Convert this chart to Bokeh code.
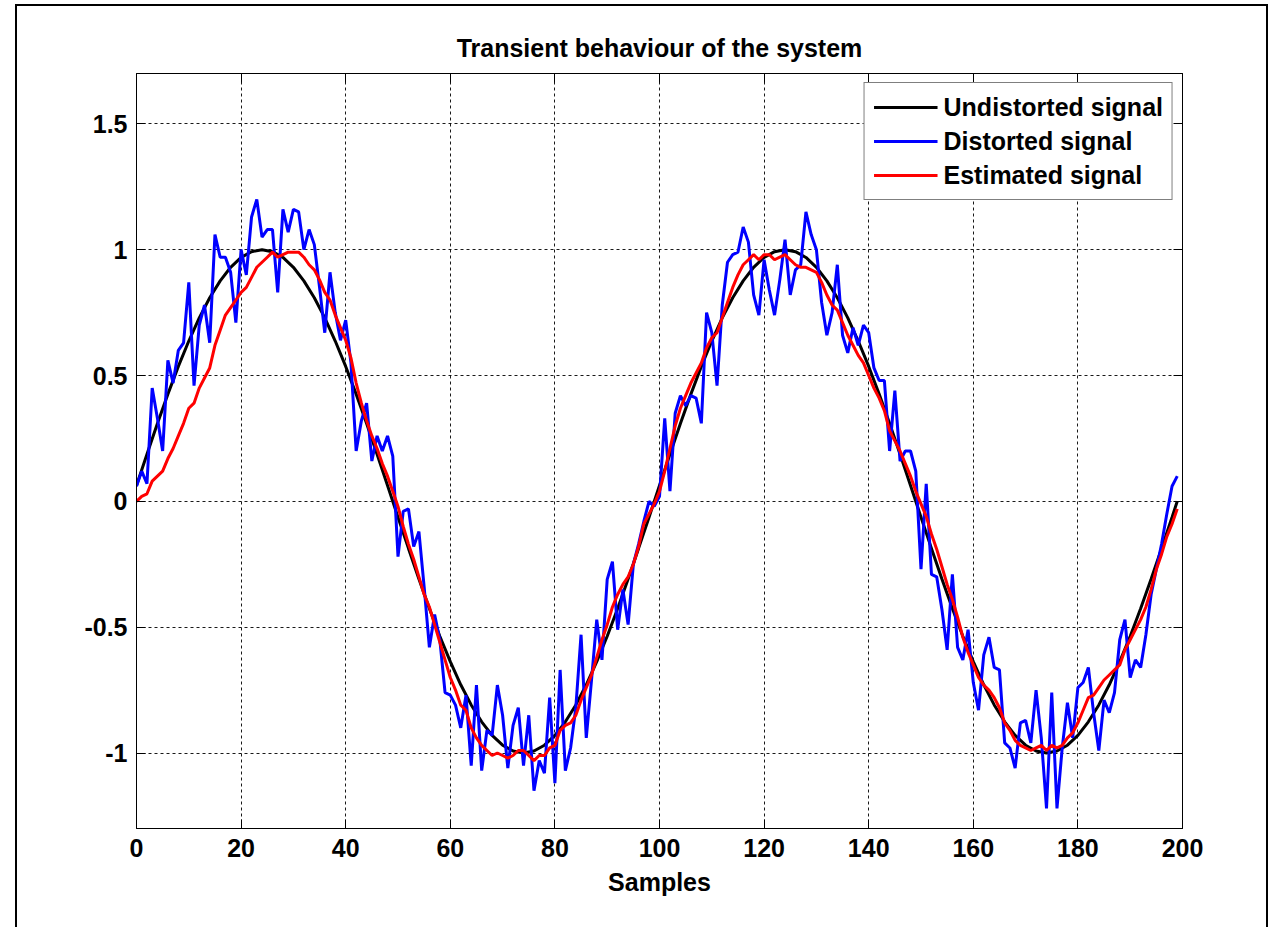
from bokeh.plotting import figure
from bokeh.models import Range1d, FixedTicker, LinearAxis, Legend, LegendItem
from bokeh.embed import file_html
from bokeh.resources import INLINE

# ---------------- data ----------------
samples = list(range(200))

undistorted_x = list(range(0, 200, 2)) + [199]
undistorted = [
    0.063, 0.187, 0.309, 0.426, 0.536, 0.637, 0.729, 0.809, 0.876, 0.930,
    0.969, 0.992, 1.000, 0.992, 0.969, 0.930, 0.876, 0.809, 0.729, 0.637,
    0.536, 0.426, 0.309, 0.187, 0.063,
    -0.063, -0.187, -0.309, -0.426, -0.536, -0.637, -0.729, -0.809, -0.876, -0.930,
    -0.969, -0.992, -1.000, -0.992, -0.969, -0.930, -0.876, -0.809, -0.729, -0.637,
    -0.536, -0.426, -0.309, -0.187, -0.063,
    0.063, 0.187, 0.309, 0.426, 0.536, 0.637, 0.729, 0.809, 0.876, 0.930,
    0.969, 0.992, 1.000, 0.992, 0.969, 0.930, 0.876, 0.809, 0.729, 0.637,
    0.536, 0.426, 0.309, 0.187, 0.063,
    -0.063, -0.187, -0.309, -0.426, -0.536, -0.637, -0.729, -0.809, -0.876, -0.930,
    -0.969, -0.992, -1.000, -0.992, -0.969, -0.930, -0.876, -0.809, -0.729, -0.637,
    -0.536, -0.426, -0.309, -0.187, -0.063,
    0.000,
]

distorted = [
    0.06, 0.12, 0.07, 0.45, 0.33, 0.20, 0.56, 0.47, 0.60, 0.63,
    0.87, 0.46, 0.70, 0.78, 0.63, 1.06, 0.97, 0.97, 0.91, 0.71,
    1.00, 0.90, 1.13, 1.20, 1.05, 1.08, 1.08, 0.83, 1.16, 1.07,
    1.16, 1.15, 1.00, 1.08, 1.02, 0.85, 0.67, 0.91, 0.75, 0.64,
    0.72, 0.55, 0.20, 0.32, 0.39, 0.16, 0.26, 0.20, 0.26, 0.18,
    -0.22, -0.04, -0.03, -0.18, -0.12, -0.34, -0.58, -0.45, -0.55, -0.76,
    -0.77, -0.81, -0.90, -0.77, -1.05, -0.73, -1.07, -0.91, -0.93, -0.73,
    -0.85, -1.06, -0.89, -0.82, -1.05, -0.85, -1.15, -1.03, -1.08, -0.78,
    -1.12, -0.67, -1.07, -0.98, -0.82, -0.53, -0.94, -0.71, -0.47, -0.63,
    -0.31, -0.24, -0.51, -0.35, -0.49, -0.25, -0.17, -0.08, 0.00, -0.02,
    0.02, 0.33, 0.04, 0.35, 0.42, 0.38, 0.42, 0.41, 0.31, 0.75,
    0.67, 0.46, 0.78, 0.95, 0.98, 0.99, 1.09, 1.03, 0.82, 0.74,
    0.96, 0.84, 0.74, 0.88, 1.04, 0.82, 0.92, 0.94, 1.15, 1.06,
    1.00, 0.79, 0.66, 0.75, 0.94, 0.66, 0.59, 0.69, 0.62, 0.70,
    0.67, 0.53, 0.48, 0.48, 0.20, 0.44, 0.16, 0.20, 0.20, 0.12,
    -0.27, 0.07, -0.29, -0.30, -0.43, -0.59, -0.29, -0.58, -0.63, -0.51,
    -0.72, -0.83, -0.61, -0.54, -0.66, -0.67, -0.96, -0.98, -1.06, -0.88,
    -0.87, -0.96, -0.75, -0.94, -1.22, -0.76, -1.22, -0.98, -0.80, -0.94,
    -0.74, -0.72, -0.66, -0.84, -0.99, -0.79, -0.84, -0.76, -0.55, -0.47,
    -0.70, -0.63, -0.66, -0.53, -0.37, -0.27, -0.17, -0.05, 0.06, 0.10,
]

estimated = [
    0.00, 0.02, 0.03, 0.08, 0.10, 0.12, 0.17, 0.21, 0.26, 0.31,
    0.37, 0.39, 0.45, 0.49, 0.53, 0.62, 0.68, 0.74, 0.77, 0.80,
    0.83, 0.85, 0.89, 0.93, 0.95, 0.97, 0.99, 0.97, 0.98, 0.99,
    0.99, 0.99, 0.97, 0.94, 0.92, 0.88, 0.83, 0.80, 0.74, 0.69,
    0.64, 0.57, 0.47, 0.39, 0.32, 0.26, 0.21, 0.15, 0.10, 0.04,
    -0.02, -0.10, -0.17, -0.23, -0.30, -0.37, -0.42, -0.49, -0.56, -0.63,
    -0.70, -0.75, -0.81, -0.83, -0.90, -0.94, -0.97, -0.99, -1.01, -1.00,
    -1.01, -1.02, -1.01, -0.99, -0.99, -1.01, -1.03, -1.01, -1.01, -0.98,
    -0.97, -0.91, -0.89, -0.88, -0.85, -0.79, -0.74, -0.69, -0.62, -0.55,
    -0.49, -0.42, -0.37, -0.33, -0.30, -0.25, -0.18, -0.09, -0.05, -0.01,
    0.04, 0.12, 0.21, 0.30, 0.37, 0.42, 0.47, 0.51, 0.55, 0.61,
    0.65, 0.67, 0.73, 0.79, 0.85, 0.90, 0.94, 0.96, 0.98, 0.96,
    0.98, 0.98, 0.96, 0.97, 0.98, 0.96, 0.94, 0.93, 0.93, 0.92,
    0.91, 0.87, 0.82, 0.78, 0.76, 0.71, 0.66, 0.62, 0.58, 0.55,
    0.50, 0.45, 0.41, 0.36, 0.28, 0.24, 0.20, 0.15, 0.10, 0.04,
    -0.01, -0.06, -0.13, -0.19, -0.26, -0.33, -0.39, -0.46, -0.54, -0.60,
    -0.65, -0.70, -0.73, -0.75, -0.78, -0.82, -0.88, -0.91, -0.95, -0.97,
    -0.98, -0.99, -0.98, -0.97, -0.99, -0.97, -0.98, -0.97, -0.94, -0.92,
    -0.88, -0.83, -0.78, -0.77, -0.74, -0.71, -0.69, -0.67, -0.65, -0.59,
    -0.55, -0.51, -0.47, -0.42, -0.35, -0.27, -0.21, -0.14, -0.09, -0.03,
]

x_ticks = [0, 20, 40, 60, 80, 100, 120, 140, 160, 180, 200]
y_ticks = [-1, -0.5, 0, 0.5, 1, 1.5]
y_tick_labels = ["-1", "-0.5", "0", "0.5", "1", "1.5"]
series_names = ["Undistorted signal", "Distorted signal", "Estimated signal"]

# ---------------- figure ----------------
FONT = "Liberation Sans"

p = figure(width=1271, height=927, output_backend="svg", toolbar_location=None,
           x_range=Range1d(0, 200), y_range=Range1d(-1.3, 1.7),
           min_border_left=136, min_border_right=89,
           min_border_top=73, min_border_bottom=99,
           background_fill_color="white", border_fill_color=None)

# outer window frame (left, top, right edges) painted behind the transparent canvas
p.styles = {
    "background-color": "white",
    "background-image": "linear-gradient(#000,#000), linear-gradient(#000,#000), linear-gradient(#000,#000)",
    "background-position": "15px 4px, 15px 4px, 1266px 4px",
    "background-size": "2px 1000px, 1253px 2px, 2px 1000px",
    "background-repeat": "no-repeat",
}

p.title.text = "Transient behaviour of the system"
p.title.text_font = FONT
p.title.text_font_size = "25px"
p.title.text_font_style = "bold"
p.title.text_color = "black"
p.title.align = "center"
p.title.standoff = 24
p.outline_line_color = "black"
p.outline_line_width = 1

def style_axis(ax, labels=True):
    ax.axis_line_color = "black"
    ax.axis_line_width = 1
    ax.major_tick_in = 9
    ax.major_tick_out = 0
    ax.major_tick_line_color = "black"
    ax.minor_tick_line_color = None
    ax.major_label_text_font = FONT
    ax.major_label_text_font_size = "25px"
    ax.major_label_text_font_style = "bold"
    ax.major_label_text_color = "black" if labels else None
    ax.axis_label_text_font = FONT
    ax.axis_label_text_font_size = "25px"
    ax.axis_label_text_font_style = "bold"
    ax.axis_label_text_color = "black"

xax = p.xaxis[0]
xax.ticker = FixedTicker(ticks=x_ticks)
xax.axis_label = "Samples"
xax.axis_label_standoff = 8
xax.major_label_standoff = 10
style_axis(xax)

yax = p.yaxis[0]
yax.ticker = FixedTicker(ticks=y_ticks)
yax.major_label_overrides = {t: s for t, s in zip(y_ticks, y_tick_labels)}
yax.major_label_standoff = 9
style_axis(yax)

top_ax = LinearAxis(ticker=FixedTicker(ticks=x_ticks))
style_axis(top_ax, labels=False)
top_ax.major_label_text_font_size = "0px"
p.add_layout(top_ax, "above")
right_ax = LinearAxis(ticker=FixedTicker(ticks=y_ticks))
style_axis(right_ax, labels=False)
right_ax.major_label_text_font_size = "0px"
p.add_layout(right_ax, "right")

for g in (p.xgrid[0], p.ygrid[0]):
    g.grid_line_color = "black"
    g.grid_line_alpha = 0.9
    g.grid_line_width = 1
    g.grid_line_dash = "3 3"
p.xgrid[0].ticker = FixedTicker(ticks=x_ticks)
p.ygrid[0].ticker = FixedTicker(ticks=y_ticks)

r_black = p.line(undistorted_x, undistorted, line_color="black", line_width=3)
r_blue = p.line(samples, distorted, line_color="#0000ff", line_width=3)
r_red = p.line(samples, estimated, line_color="#ff0000", line_width=3)

legend = Legend(items=[LegendItem(label=series_names[0], renderers=[r_black]),
                       LegendItem(label=series_names[1], renderers=[r_blue]),
                       LegendItem(label=series_names[2], renderers=[r_red])],
                location="top_right")
legend.margin = 9
legend.padding = 9
legend.spacing = 4
legend.glyph_width = 64
legend.glyph_height = 30
legend.label_standoff = 6
legend.label_text_font = FONT
legend.label_text_font_size = "25px"
legend.label_text_font_style = "bold"
legend.label_text_color = "black"
legend.border_line_color = "black"
legend.border_line_width = 1
legend.background_fill_color = "white"
legend.background_fill_alpha = 1
p.add_layout(legend, "center")

open("out.html", "w").write(file_html(p, INLINE))
